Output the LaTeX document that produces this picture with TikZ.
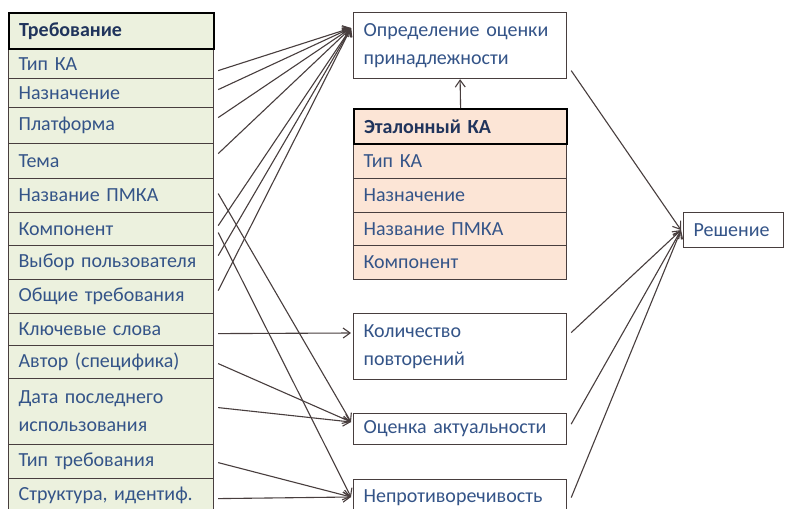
\documentclass[tikz,border=0pt]{standalone}
\usepackage{fontspec}
\setmainfont{Carlito}
\usetikzlibrary{arrows.meta,calc}
\definecolor{txt}{RGB}{52,84,136}
\definecolor{hdtxt}{RGB}{32,52,92}
\definecolor{grn}{RGB}{236,241,222}
\definecolor{pch}{RGB}{252,229,214}
\definecolor{ln}{RGB}{72,62,62}
\begin{document}
\begin{tikzpicture}[x=1pt,y=-1pt,
  base/.style={anchor=north west, rectangle, inner ysep=0pt, inner xsep=10pt, align=left,
    font=\fontsize{20}{28}\selectfont, text=txt, draw=ln, line width=1.2pt},
  lrow/.style={base, fill=grn, text width=185pt},
  lhead/.style={lrow, draw=black, line width=2.2pt, text=hdtxt, font=\fontsize{20}{28}\selectfont\bfseries},
  prow/.style={base, fill=pch, text width=193pt},
  phead/.style={prow, draw=black, line width=2.2pt, text=hdtxt, font=\fontsize{20}{28}\selectfont\bfseries},
  wbox/.style={base, fill=white, text width=193pt},
  arr/.style={draw=ln, line width=1.1pt, -{Straight Barb[length=7pt,width=10pt]}}]
\useasboundingbox (0,0) rectangle (785,509);
\fill[white] (0,0) rectangle (785,509);
% left table
\node[lrow, minimum height=30] (r1) at (8,48) {Тип КА};
\node[lrow, minimum height=29] (r2) at (8,78) {Назначение};
\node[lrow, minimum height=36] (r3) at (8,107) {Платформа};
\node[lrow, minimum height=35] (r4) at (8,143) {Тема};
\node[lrow, minimum height=34] (r5) at (8,178) {Название ПМКА};
\node[lrow, minimum height=33] (r6) at (8,212) {Компонент};
\node[lrow, minimum height=34] (r7) at (8,245) {Выбор пользователя};
\node[lrow, minimum height=34] (r8) at (8,279) {Общие требования};
\node[lrow, minimum height=32] (r9) at (8,313) {Ключевые слова};
\node[lrow, minimum height=33] (r10) at (8,345) {Автор (специфика)};
\node[lrow, minimum height=66] (r11) at (8,378) {Дата последнего\\использования};
\node[lrow, minimum height=34] (r12) at (8,444) {Тип требования};
\node[lrow, minimum height=34] (r13) at (8,478) {Структура, идентиф.};
\node[lhead, minimum height=36] (lh) at (8,12) {Требование};
% reference table
\node[prow, minimum height=35] (p1) at (353,143) {Тип КА};
\node[prow, minimum height=34] (p2) at (353,178) {Назначение};
\node[prow, minimum height=33] (p3) at (353,212) {Название ПМКА};
\node[prow, minimum height=34] (p4) at (353,245) {Компонент};
\node[phead, minimum height=35] (ph) at (353,108) {Эталонный КА};
% boxes
\node[wbox, minimum height=66] (opr) at (353,12) {Определение оценки\\принадлежности};
\node[wbox, minimum height=66] (kol) at (353,313) {Количество\\повторений};
\node[wbox, minimum height=31] (ocn) at (353,413) {Оценка актуальности};
\node[wbox, minimum height=36] (nep) at (353,479) {Непротиворечивость};
\node[base, fill=white, text width=80pt, minimum height=35] (res) at (683,212) {Решение};
% coordinates
\coordinate (oin) at ($(opr.north west)+(-2,16)$);
\coordinate (kin) at ($(kol.north west)+(-2,20)$);
\coordinate (ain) at ($(ocn.north west)+(-2,9)$);
\coordinate (nin) at ($(nep.north west)+(-2,18)$);
\coordinate (rin) at ($(res.west)+(-2,0)$);
% to Определение
\draw[arr] ($(r1.east)+(4,7)$) -- (oin);
\draw[arr] ($(r2.east)+(4,-3.5)$) -- (oin);
\draw[arr] ($(r3.east)+(4,-8)$) -- (oin);
\draw[arr] ($(r4.east)+(4,-7.5)$) -- (oin);
\draw[arr] ($(r6.east)+(4,-3.5)$) -- (oin);
\draw[arr] ($(r7.east)+(4,-7)$) -- (oin);
\draw[arr] ($(r8.east)+(4,-6)$) -- (oin);
\draw[arr] (ph.north) -- (opr.south);
% crossing lines
\draw[arr] ($(r5.east)+(4,-2)$) -- (ain);
\draw[arr] ($(r6.east)+(4,3.5)$) -- (nin);
% lower
\draw[arr] ($(r9.east)+(4,4)$) -- (kin);
\draw[arr] ($(r10.east)+(4,1.5)$) -- (ain);
\draw[arr] ($(r11.east)+(4,-4)$) -- (ain);
\draw[arr] ($(r12.east)+(4,1)$) -- (nin);
\draw[arr] ($(r13.east)+(4,3)$) -- (nin);
% to Решение
\draw[arr] ($(opr.east)+(4,25)$) -- (rin);
\draw[arr] ($(kol.east)+(4,-14)$) -- (rin);
\draw[arr] ($(ocn.east)+(4,-5)$) -- (rin);
\draw[arr] ($(nep.east)+(4,0)$) -- (rin);
\end{tikzpicture}
\end{document}
